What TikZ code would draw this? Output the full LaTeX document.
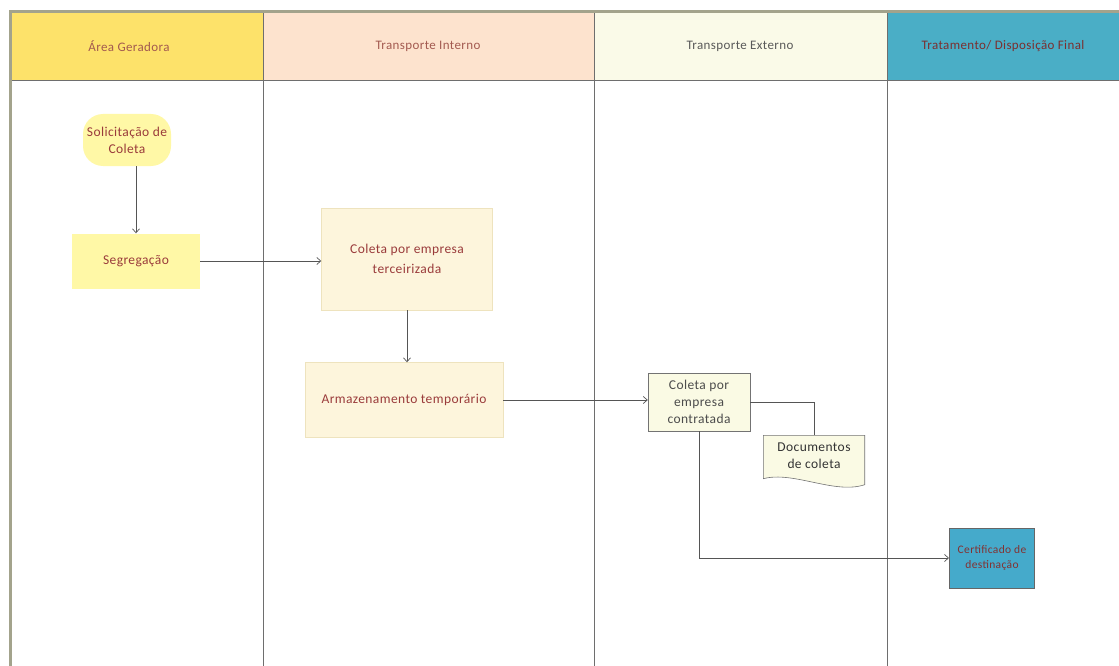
\documentclass[tikz,border=0pt]{standalone}
\usepackage{fontspec}
\setmainfont{Carlito}
\newfontfamily\boxfont[LetterSpace=3]{Carlito}
\usetikzlibrary{arrows.meta}
\definecolor{frame}{HTML}{A3A38C}
\definecolor{lane}{HTML}{6E6E6E}
\definecolor{hdrA}{HTML}{FDE26A}
\definecolor{hdrB}{HTML}{FDE3CE}
\definecolor{hdrC}{HTML}{FAFAE8}
\definecolor{hdrD}{HTML}{4AAEC6}
\definecolor{hdrtxt}{HTML}{A35A50}
\definecolor{boxtxt}{HTML}{9A3B3B}
\definecolor{yelA}{HTML}{FFF8A6}
\definecolor{cream}{HTML}{FDF5DC}
\definecolor{creamline}{HTML}{EEE3BE}
\definecolor{pale}{HTML}{FAFAE4}
\definecolor{teal}{HTML}{45AACB}
\definecolor{wire}{HTML}{555555}
\begin{document}
\begin{tikzpicture}[x=1pt,y=-1pt,
  every node/.style={font=\boxfont\fontsize{13.5}{17}\selectfont, align=center, inner sep=0pt},
  hdr/.style={draw=none, text=hdrtxt, font=\boxfont\fontsize{13}{15}\selectfont},
  flowbox/.style={rectangle, text=boxtxt},
  wire/.style={draw=wire, line width=0.7pt},
  arr/.style={wire, -{Straight Barb[length=4pt,width=7pt]}}]
\useasboundingbox (0,0) rectangle (1119,666);
\fill[white] (0,0) rectangle (1119,666);
% header band
\fill[hdrA] (11,13) rectangle (263,80);
\fill[hdrB] (263,13) rectangle (594,80);
\fill[hdrC] (594,13) rectangle (887,80);
\fill[hdrD] (887,13) rectangle (1119,80);
\node[hdr] (h1) at (129,46) {Área Geradora};
\node[hdr] (h2) at (428,46) {Transporte Interno};
\node[hdr, text=black!65] (h3) at (740,46) {Transporte Externo};
\node[hdr, text=boxtxt!80!black] (h4) at (1003,46) {Tratamento/ Disposição Final};
% lanes
\draw[lane, line width=0.8pt] (11,80) -- (1119,80);
\draw[lane, line width=0.8pt] (263,13) -- (263,666);
\draw[lane, line width=0.8pt] (594,13) -- (594,666);
\draw[lane, line width=0.8pt] (887,13) -- (887,666);
% outer frame
\draw[frame, line width=3pt] (10,666) -- (10,12) -- (1119,12);
% steps
\node[flowbox, fill=yelA, rounded corners=20pt, minimum width=88pt, minimum height=52pt] (sol) at (127,140) {Solicitação de\\Coleta};
\node[flowbox, fill=yelA, minimum width=128pt, minimum height=55pt] (seg) at (136,261) {Segregação};
\node[flowbox, fill=cream, draw=creamline, minimum width=171pt, minimum height=102pt] (ter) at (407,259) {Coleta por empresa\\[3pt]terceirizada};
\node[flowbox, fill=cream, draw=creamline, minimum width=198pt, minimum height=75pt] (arm) at (404,400) {Armazenamento temporário};
\node[flowbox, fill=pale, draw=black!55, text=black!70, minimum width=102pt, minimum height=58pt] (con) at (699,402) {Coleta por\\empresa\\contratada};
\node[minimum width=101pt, minimum height=45pt] (doc) at (814,458) {};
\fill[pale] (doc.north west) -- (doc.north east) -- ([yshift=-4pt]doc.south east)
  .. controls ([xshift=-30pt,yshift=-14pt]doc.south east) and ([xshift=30pt,yshift=10pt]doc.south west) .. ([yshift=2pt]doc.south west) -- cycle;
\draw[black!55, line width=0.6pt] (doc.north west) -- (doc.north east) -- ([yshift=-4pt]doc.south east)
  .. controls ([xshift=-30pt,yshift=-14pt]doc.south east) and ([xshift=30pt,yshift=10pt]doc.south west) .. ([yshift=2pt]doc.south west) -- cycle;
\node[text=black!80] (doctext) at (814,456) {Documentos\\de coleta};
\node[flowbox, fill=teal, draw=black!60, line width=1pt, text=boxtxt!85!black, minimum width=85pt, minimum height=60pt, font=\boxfont\fontsize{11.5}{15}\selectfont] (cert) at (992,558) {Certificado de\\destinação};
% connectors
\draw[arr] (seg.north |- sol.south) -- (seg.north);
\draw[arr] (seg) -- (ter.west |- seg.east);
\draw[arr] (ter.south) -- (ter.south |- arm.north);
\draw[arr] (arm.east) -- (con.west |- arm.east);
\draw[wire] (con.east) -| (doc.north);
\draw[arr] (con.south) |- (cert.west);
\end{tikzpicture}
\end{document}
